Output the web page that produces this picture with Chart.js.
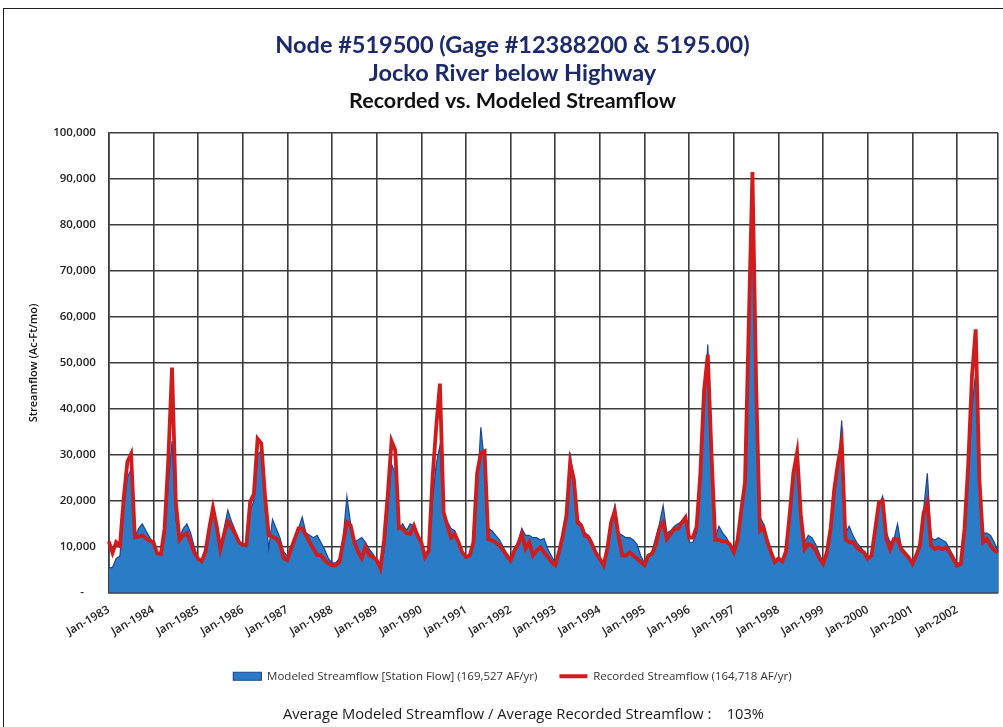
<!DOCTYPE html>
<html>
<head>
<meta charset="utf-8">
<title>Jocko River below Highway</title>
<script src="https://cdn.jsdelivr.net/npm/chart.js@4.4.1/dist/chart.umd.min.js"></script>
<style>
  html, body { margin: 0; padding: 0; background: #fff; }
  #wrap { position: relative; width: 1003px; height: 727px; overflow: hidden; }
  #frame { position: absolute; left: 3px; top: 8px; width: 1100px; height: 800px; border-left: 1px solid #222; border-top: 1px solid #222; }
  #c { position: absolute; left: 0; top: 0; }
  #ratio { position: absolute; left: 22px; width: 1003px; top: 703px; text-align: center;
           font: 14.7px "Open Sans", sans-serif; color: #1a1a1a; }
</style>
</head>
<body>
<div id="wrap">
  <div id="frame"></div>
  <canvas id="c" width="1003" height="727"></canvas>
  <div id="ratio">Average Modeled Streamflow / Average Recorded Streamflow :&nbsp;&nbsp;&nbsp; 103%</div>
</div>
<script>
// monthly streamflow, Ac-Ft/mo, Jan-1983 .. Dec-2002
const years = [1983, 1984, 1985, 1986, 1987, 1988, 1989, 1990, 1991, 1992,
               1993, 1994, 1995, 1996, 1997, 1998, 1999, 2000, 2001, 2002];
const monthNames = ['Jan','Feb','Mar','Apr','May','Jun','Jul','Aug','Sep','Oct','Nov','Dec'];

const recorded = [
  11200, 8700, 11000, 10200, 20500, 28500, 30200, 12200, 12200, 12500, 11800, 11300, // 1983
  11000, 8600, 8400, 14000, 29000, 49000, 20000, 11500, 12500, 13000, 11000, 8800,    // 1984
  7400, 6900, 9000, 14000, 18500, 14500, 9500, 12800, 15500, 14200, 12800, 11000,     // 1985
  10400, 10500, 19800, 21500, 33500, 32500, 21000, 12500, 12200, 11800, 10700, 7500,  // 1986
  7100, 9600, 11800, 14000, 14000, 12500, 11000, 9600, 8200, 8200, 7100, 6400,        // 1987
  6000, 6000, 6700, 11000, 15400, 14700, 11000, 8900, 7500, 10000, 8200, 7800,        // 1988
  7100, 5300, 11500, 21500, 33000, 31000, 14000, 14000, 13000, 12800, 14600, 12400,   // 1989
  11000, 7800, 9200, 24700, 36000, 45500, 17500, 14600, 12000, 12800, 11000, 8800,    // 1990
  7800, 8100, 11000, 26000, 30400, 30800, 11700, 11400, 11000, 10300, 9200, 8100,     // 1991
  7000, 9200, 10600, 12800, 9600, 11000, 8100, 9200, 9900, 8800, 7800, 6700,          // 1992
  6000, 8800, 12400, 16800, 28300, 24700, 15300, 14600, 12400, 12000, 10300, 8500,    // 1993
  7400, 6000, 9600, 15300, 17800, 12400, 8100, 8100, 8800, 8100, 7400, 6700,          // 1994
  6000, 8100, 8500, 10300, 13900, 15300, 11700, 12800, 13900, 13900, 15300, 16400,    // 1995
  12000, 12000, 14400, 26000, 44000, 51800, 30000, 11500, 11500, 11200, 11200, 10500, // 1996
  8800, 11500, 18000, 24000, 58000, 91500, 45000, 13500, 14200, 11000, 8800, 6700,    // 1997
  7500, 6800, 9000, 17000, 26000, 30500, 17000, 9500, 10600, 10300, 9200, 7500,       // 1998
  6300, 8800, 13900, 22600, 28300, 32700, 11700, 11000, 11000, 9900, 9200, 8800,      // 1999
  7400, 8100, 13900, 19700, 20000, 11700, 9500, 11700, 11700, 9500, 8500, 7700,       // 2000
  6300, 8100, 10300, 17400, 19700, 10300, 9500, 9900, 9500, 9900, 8800, 7400,         // 2001
  5900, 6300, 13900, 28000, 47000, 57300, 24700, 11000, 11700, 10300, 9200, 8800      // 2002
];

const modeled = [
  5500, 5500, 7500, 8000, 18000, 25000, 27000, 12000, 14000, 15000, 13500, 12000,     // 1983
  11000, 8500, 8500, 12000, 24000, 33000, 16000, 12000, 14000, 15000, 13000, 10000,   // 1984
  7500, 6500, 9000, 15000, 18500, 14000, 9500, 14000, 18000, 15500, 13500, 11000,     // 1985
  10500, 10000, 18000, 20000, 30000, 31000, 18000, 9600, 16000, 14000, 12000, 9000,   // 1986
  8000, 9000, 12000, 14000, 16500, 13000, 12500, 12000, 12500, 11000, 9500, 7500,     // 1987
  6500, 6500, 7500, 12000, 21000, 15000, 11000, 11500, 12000, 11000, 9500, 8500,      // 1988
  7000, 5500, 9000, 18000, 28000, 26000, 14000, 15000, 13500, 15000, 14500, 13000,    // 1989
  11000, 8000, 9000, 20000, 28000, 32000, 17000, 15500, 14000, 13500, 11000, 9000,    // 1990
  8000, 8000, 11000, 22000, 36000, 28000, 14000, 13500, 12500, 11500, 10000, 8500,    // 1991
  7500, 9500, 11000, 14000, 12500, 12500, 12000, 12000, 11500, 11800, 9500, 8000,     // 1992
  6500, 8500, 12000, 16000, 30500, 24000, 16000, 15000, 13000, 12500, 11000, 9000,    // 1993
  7500, 6000, 9500, 15000, 19000, 13000, 12500, 12000, 12000, 11500, 10500, 8000,     // 1994
  6500, 8000, 9000, 12000, 15000, 19000, 13000, 13500, 14500, 15000, 15500, 16500,    // 1995
  11000, 11000, 13000, 24000, 40000, 54000, 30000, 12000, 14500, 13000, 12000, 10500, // 1996
  8500, 11000, 17000, 24000, 55000, 82000, 38000, 16500, 15000, 12000, 9500, 7000,    // 1997
  7500, 7000, 9000, 16000, 25000, 29000, 17000, 11000, 12500, 12000, 10500, 8500,     // 1998
  6500, 8000, 13000, 21000, 27000, 37500, 13000, 14500, 12500, 11000, 10000, 9000,    // 1999
  7500, 8000, 13000, 19000, 21000, 13000, 11000, 11500, 15000, 10000, 9000, 8000,     // 2000
  6500, 8000, 11000, 18000, 26000, 12000, 11500, 12000, 11500, 11000, 9500, 8000,     // 2001
  6500, 6500, 12000, 25000, 40000, 48000, 22000, 13000, 13000, 12500, 11000, 9000     // 2002
];

const categories = years.flatMap(y => monthNames.map(m => m + '-' + y));
const gridDark = '#3b3b3b';

new Chart(document.getElementById('c'), {
  type: 'line',
  data: {
    labels: categories,
    datasets: [
      {
        label: 'Recorded Streamflow (164,718 AF/yr)',
        data: recorded,
        borderColor: '#d01c1c',
        backgroundColor: '#d01c1c',
        borderWidth: 3.8,
        pointRadius: 0,
        pointStyle: 'line',
        tension: 0,
        fill: false
      },
      {
        label: 'Modeled Streamflow [Station Flow] (169,527 AF/yr)',
        data: modeled,
        borderColor: '#1d4596',
        backgroundColor: '#2a7cc6',
        borderWidth: 1.2,
        pointRadius: 0,
        pointStyle: 'rect',
        tension: 0,
        fill: 'origin'
      }
    ]
  },
  options: {
    responsive: false,
    animation: false,
    layout: { padding: { top: 31, left: 27, right: 5, bottom: 35 } },
    plugins: {
      title: {
        display: true,
        text: ['Node #519500 (Gage #12388200 & 5195.00)', 'Jocko River below Highway'],
        color: '#1c2a6c',
        font: { family: 'Lato', size: 23.5, weight: 'bold', lineHeight: '28px' },
        padding: { top: 0, bottom: 0 }
      },
      subtitle: {
        display: true,
        text: 'Recorded vs. Modeled Streamflow',
        color: '#111',
        font: { family: 'Lato', size: 21.5, weight: 'bold', lineHeight: '28px' },
        padding: { top: 0, bottom: 18 }
      },
      legend: {
        position: 'bottom',
        labels: {
          usePointStyle: true,
          pointStyleWidth: 28,
          boxHeight: 8,
          padding: 22,
          color: '#333',
          font: { family: 'Open Sans', size: 11.5 },
          sort: (a, b) => b.datasetIndex - a.datasetIndex
        }
      },
      tooltip: { enabled: false }
    },
    scales: {
      x: {
        // last tick has no label, so no room is needed past the right edge
        afterFit: scale => { scale.paddingRight = 0; },
        grid: {
          drawTicks: false,
          lineWidth: 1.6,
          color: c => (c.index % 12 === 0 || c.index === categories.length - 1) ? gridDark : 'rgba(0,0,0,0)'
        },
        border: { color: gridDark, width: 1.6 },
        ticks: {
          autoSkip: false,
          minRotation: 30,
          maxRotation: 30,
          padding: 10,
          color: '#222',
          font: { family: 'Open Sans', size: 11.5, weight: '600' },
          callback: function (v, i) { return i % 12 === 0 ? categories[i] : ''; }
        }
      },
      y: {
        min: 0,
        max: 100000,
        grid: { drawTicks: false, lineWidth: 1.6, color: gridDark },
        border: { color: gridDark, width: 1.6 },
        ticks: {
          stepSize: 10000,
          padding: 13,
          color: '#222',
          font: { family: 'Open Sans', size: 11.5, weight: '600' },
          callback: v => v === 0 ? '-    ' : v.toLocaleString('en-US')
        },
        title: {
          display: true,
          text: 'Streamflow (Ac-Ft/mo)',
          color: '#111',
          font: { family: 'Open Sans', size: 11, weight: '600' },
          padding: { top: 0, bottom: 0 }
        }
      }
    }
  }
});
</script>
</body>
</html>
